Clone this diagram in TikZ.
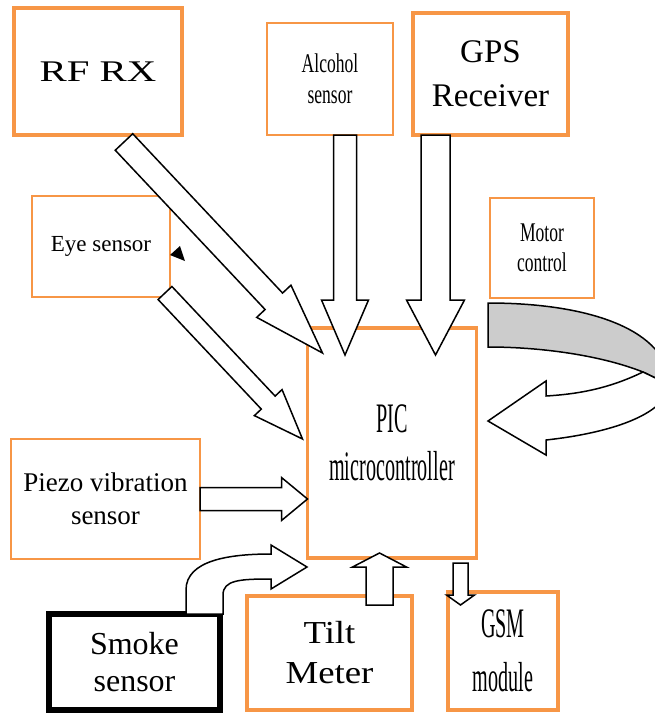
\documentclass[tikz,border=0pt]{standalone}
\usepackage{fontspec}
\setmainfont{Liberation Serif}
\newfontfamily\rffont[FakeStretch=1.36]{Liberation Serif}
\newfontfamily\tiltfont[FakeStretch=1.15]{Liberation Serif}
\newfontfamily\slimfont[FakeStretch=0.65]{Liberation Serif}
\newfontfamily\picfont[FakeStretch=0.48]{Liberation Serif}
\usepackage{tikz}
\usetikzlibrary{calc}
\definecolor{boxorange}{RGB}{247,150,70}

% hollow block arrow: tail, tip, half shaft, half head, head length
\newcommand{\blockarrow}[5]{%
  \path[blockedge] let \p1=(#1), \p2=(#2), \p3=($(\x2,\y2)-(\x1,\y1)$),
    \n1={atan2(\y3,\x3)}, \n2={veclen(\x3,\y3)} in
    {[shift={(\p1)}, rotate=\n1]
    (0pt,-#3pt) -- ({\n2-#5pt},-#3pt) -- ({\n2-#5pt},-#4pt) -- ({\n2+0pt},0pt)
    -- ({\n2-#5pt},#4pt) -- ({\n2-#5pt},#3pt) -- (0pt,#3pt) -- cycle};}

\begin{document}
\begin{tikzpicture}[x=1pt, y=-1pt, >=stealth]
	\tikzstyle{unit} = [draw=boxorange, line width=2.5pt, fill=white, inner sep=0pt, outer sep=0pt, align=center]
	\tikzstyle{bigunit} = [unit, line width=4pt]
	\tikzstyle{blockedge} = [draw=black, line width=1.5pt, fill=white, line join=miter]

	\useasboundingbox (0,0) rectangle (655,713);
	\clip (0,0) rectangle (655,713);

	% blocks
	\node[bigunit, line width=4.5pt, minimum width=168pt, minimum height=127pt, font={\rffont\fontsize{30}{36}\selectfont}] (rf) at (98,71.5) {RF RX};
	\node[unit, minimum width=126pt, minimum height=112pt, font={\slimfont\fontsize{27}{31}\selectfont}] (alcohol) at (330,79) {Alcohol\\sensor};
	\node[bigunit, minimum width=155pt, minimum height=122pt, font={\fontsize{33}{44}\selectfont}] (gps) at (490.5,74) {GPS\\Receiver};
	\node[unit, minimum width=138pt, minimum height=101pt, font={\fontsize{23}{28}\selectfont}] (eye) at (101,246.5) {Eye sensor};
	\node[unit, minimum width=104pt, minimum height=100pt, font={\slimfont\fontsize{27}{30}\selectfont}] (motor) at (542,248) {Motor\\control};
	\node[unit, line width=3.5pt, minimum width=169pt, minimum height=230pt, font={\picfont\fontsize{42}{48}\selectfont}] (pic) at (392,443) {PIC\\microcontroller};
	\node[unit, minimum width=189pt, minimum height=120pt, font={\fontsize{27}{33}\selectfont}] (piezo) at (105.5,499) {Piezo vibration\\sensor};
	\node[unit, draw=black, line width=5.5pt, minimum width=171pt, minimum height=96pt, font={\fontsize{32}{37}\selectfont}] (smoke) at (134.5,662) {Smoke\\sensor};
	\node[bigunit, line width=4.5pt, minimum width=165pt, minimum height=114pt, font={\tiltfont\fontsize{32}{40}\selectfont}] (tilt) at (329.5,653) {Tilt\\Meter};
	\node[unit, line width=3.5pt, minimum width=110pt, minimum height=118pt, font={\picfont\fontsize{42}{54}\selectfont}] (gsm) at (503,651) {GSM\\module};

	% straight block arrows
	\blockarrow{$(rf.south)+(26,7)$}{$(pic.north west)+(15,25)$}{12}{23.5}{71}
	\blockarrow{$(eye.south east)+(-5,-4)$}{$(pic.west)+(-5,-4)$}{9.5}{19}{50}
	\blockarrow{$(alcohol.south)+(15,0)$}{$(pic.north west)+(37.5,27)$}{11.5}{23.5}{55}
	\blockarrow{$(gps.south)+(-55,0)$}{$(pic.north east)+(-41,27)$}{14.5}{29}{55}
	\blockarrow{piezo.east}{piezo.east -| pic.west}{11.5}{21.5}{26}
	\blockarrow{$(tilt.north)+(50,9)$}{$(pic.south)+(-12.5,-5)$}{13.5}{27}{14}
	\blockarrow{$(pic.south east)+(-16,5)$}{$(gsm.north)+(-42.5,13)$}{7.5}{14}{10}

	% bent arrow out of the smoke sensor
	\begin{scope}[shift={(smoke.north east)}]
		\path[blockedge] (-34,0) -- (-34,-24) .. controls (-34,-54) and (10,-60) .. (51,-60)
			-- (51,-69) -- (87,-47) -- (51,-25) -- (51,-35)
			.. controls (20,-35) and (3,-34) .. (3,-19) -- (3,0) -- cycle;
	\end{scope}

	% turning arrow from motor control back to the controller
	\begin{scope}[shift={(motor.south west)}]
		\path[blockedge, fill=gray!40] (-2,5) .. controls (100,5) and (178,32) .. (180,87)
			-- (153,74) .. controls (110,57) and (50,49) .. (-2,49) -- cycle;
		\path[blockedge] (153,74) .. controls (120,90) and (90,96) .. (56,98)
			-- (56,83) -- (-2,123) -- (56,157) -- (56,142)
			.. controls (120,135) and (175,117) .. (180,87) -- cycle;
	\end{scope}

	% stray arrow tip beside the eye sensor
	\begin{scope}[shift={(eye.east)}]
		\fill (0,8.5) -- (10,-0.5) -- (15,14.5) -- cycle;
	\end{scope}
\end{tikzpicture}
\end{document}
